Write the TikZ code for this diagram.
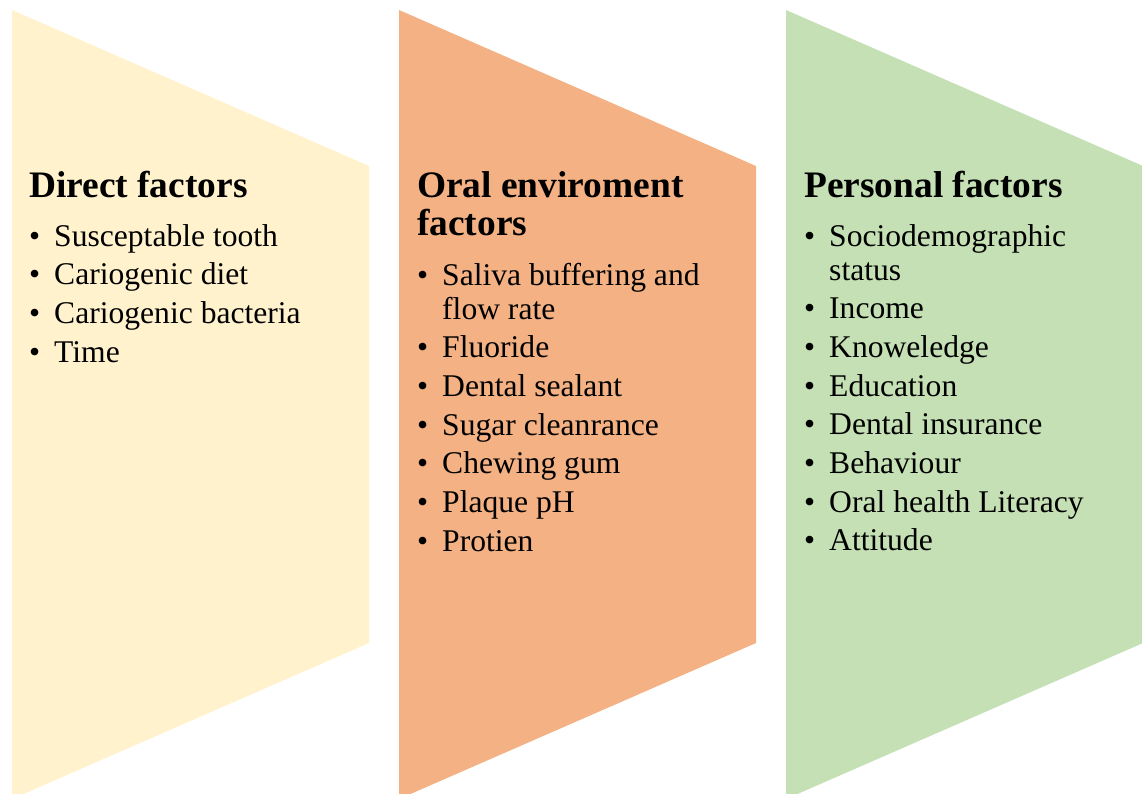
\documentclass[tikz,border=0pt]{standalone}
\usepackage{fontspec}
\setmainfont{Liberation Serif}
\usetikzlibrary{positioning}

\definecolor{directfill}{HTML}{FFF2CC}
\definecolor{oralfill}{HTML}{F4B183}
\definecolor{personalfill}{HTML}{C5E0B4}

\newcommand{\headfont}{\fontsize{37.4}{38}\selectfont\bfseries}
\newcommand{\itemfont}{\fontsize{31.6}{34}\selectfont}
\newcommand{\bul}[1]{\makebox[25pt][l]{\textbullet}\parbox[t]{300pt}{\raggedright #1}}

\tikzset{
  head/.style={anchor=base west,inner sep=0pt,font=\headfont},
  factor/.style={anchor=base west,inner sep=0pt,font=\itemfont}
}

\begin{document}
\begin{tikzpicture}[x=1pt,y=-1pt]
\useasboundingbox (0,0) rectangle (1142,793);
\clip (0,0) rectangle (1142,793);
% chevrons
\fill[directfill] (12,10) -- (369,166) -- (369,643) -- (12,799) -- cycle;
\fill[oralfill] (399,10) -- (756,166) -- (756,643) -- (399,799) -- cycle;
\fill[personalfill] (786,10) -- (1143,166) -- (1143,643) -- (786,799) -- cycle;
% direct factors
\node[head] (direct) at (29,197) {Direct factors};
\node[factor,below=49pt of direct.base west,anchor=base west] (d1) {\bul{Susceptable tooth}};
\node[factor,below=38.7pt of d1.base west,anchor=base west] (d2) {\bul{Cariogenic diet}};
\node[factor,below=38.7pt of d2.base west,anchor=base west] (d3) {\bul{Cariogenic bacteria}};
\node[factor,below=38.7pt of d3.base west,anchor=base west] (d4) {\bul{Time}};
% oral enviroment factors
\node[head] (oral) at (417,197) {\parbox[t]{320pt}{\raggedright Oral enviroment\\factors}};
\node[factor,below=88pt of oral.base west,anchor=base west] (o1) {\bul{Saliva buffering and\\flow rate}};
\node[factor,below=72.7pt of o1.base west,anchor=base west] (o2) {\bul{Fluoride}};
\node[factor,below=38.7pt of o2.base west,anchor=base west] (o3) {\bul{Dental sealant}};
\node[factor,below=38.7pt of o3.base west,anchor=base west] (o4) {\bul{Sugar cleanrance}};
\node[factor,below=38.7pt of o4.base west,anchor=base west] (o5) {\bul{Chewing gum}};
\node[factor,below=38.7pt of o5.base west,anchor=base west] (o6) {\bul{Plaque pH}};
\node[factor,below=38.7pt of o6.base west,anchor=base west] (o7) {\bul{Protien}};
% personal factors
\node[head] (personal) at (804,197) {Personal factors};
\node[factor,below=49pt of personal.base west,anchor=base west] (p1) {\bul{Sociodemographic\\status}};
\node[factor,below=72.7pt of p1.base west,anchor=base west] (p2) {\bul{Income}};
\node[factor,below=38.7pt of p2.base west,anchor=base west] (p3) {\bul{Knoweledge}};
\node[factor,below=38.7pt of p3.base west,anchor=base west] (p4) {\bul{Education}};
\node[factor,below=38.7pt of p4.base west,anchor=base west] (p5) {\bul{Dental insurance}};
\node[factor,below=38.7pt of p5.base west,anchor=base west] (p6) {\bul{Behaviour}};
\node[factor,below=38.7pt of p6.base west,anchor=base west] (p7) {\bul{Oral health Literacy}};
\node[factor,below=38.7pt of p7.base west,anchor=base west] (p8) {\bul{Attitude}};
\end{tikzpicture}
\end{document}
